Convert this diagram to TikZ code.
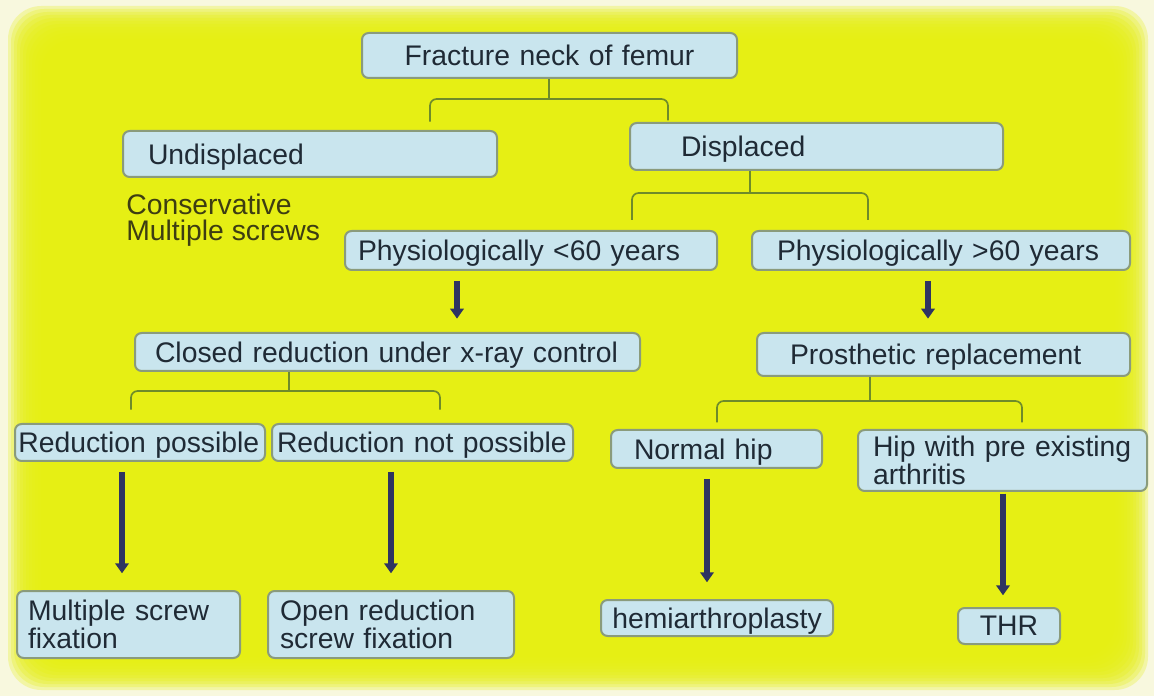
\documentclass[tikz,border=0pt]{standalone}
\usepackage{fontspec}
\setsansfont{Liberation Sans}
\usetikzlibrary{arrows.meta}
\definecolor{Haze}{HTML}{F8F8DE}
\definecolor{Lemon}{HTML}{E6EF12}
\definecolor{BoxFill}{HTML}{C9E5EE}
\definecolor{BoxEdge}{HTML}{8A9B7C}
\definecolor{BoxInk}{HTML}{1F2A35}
\definecolor{NoteInk}{HTML}{3D3D12}
\definecolor{BraceGreen}{HTML}{6E8B2A}
\definecolor{ShaftBlue}{HTML}{2E3461}

\begin{document}
\begin{tikzpicture}[x=0.6pt,y=-0.6pt,>={Triangle[width=8pt,length=6pt]},
  every node/.style={font=\sffamily\fontsize{17}{15.5}\selectfont,text=BoxInk},
  box/.style={draw=BoxEdge,fill=BoxFill,line width=1.2pt,rounded corners=4pt,align=left,inner ysep=0pt},
  single/.style={box,text depth=0pt},
  brace/.style={BraceGreen,line width=1pt,rounded corners=4pt},
  push/.style={->,ShaftBlue,line width=3.4pt,shorten <=6pt,shorten >=8pt}]
\useasboundingbox (0,0) rectangle (1154,696);
\fill[Haze] (0,0) rectangle (1154,696);
\foreach \k in {0,...,11}{\fill[Lemon,opacity=.28,rounded corners=20pt] (8+3*\k,6+3*\k) rectangle (1148-3*\k,690-3*\k);}
\node[single,text width=225pt,inner xsep=0pt,align=center,minimum height=27pt] (frac) at (549.5,55.5) {Fracture neck of femur};
\node[single,text width=194.4pt,inner xsep=15pt,minimum height=27.6pt] (undisp) at (310,154) {Undisplaced};
\node[single,text width=162.6pt,inner xsep=30.6pt,minimum height=28.2pt] (disp) at (816.5,146.5) {Displaced};
\node[text=NoteInk,align=left,anchor=north west,inner sep=0pt] (cons) at (126,194) {Conservative\\Multiple screws};
\node[single,text width=207.6pt,inner xsep=7.8pt,minimum height=23.4pt] (young) at (531,250.5) {Physiologically <60 years};
\node[single,text width=196.8pt,inner xsep=15pt,minimum height=23.4pt] (old) at (941,250.5) {Physiologically >60 years};
\node[single,text width=279pt,inner xsep=12pt,minimum height=22.8pt] (closed) at (387.5,352) {Closed reduction under x-ray control};
\node[single,text width=184.2pt,inner xsep=19.8pt,minimum height=25.8pt] (prosth) at (943.5,354.5) {Prosthetic replacement};
\node[single,text width=146pt,inner xsep=2pt,minimum height=22.2pt] (redyes) at (140,442.5) {Reduction possible};
\node[single,text width=174.6pt,inner xsep=3pt,minimum height=22.2pt] (redno) at (422.5,442.5) {Reduction not possible};
\node[single,text width=99pt,inner xsep=13.8pt,minimum height=22.8pt] (normal) at (716.5,449) {Normal hip};
\node[box,text width=155.4pt,inner xsep=9pt,minimum height=36.6pt] (arth) at (1002.5,460.5) {Hip with pre existing\\arthritis};
\node[box,text width=120.6pt,inner xsep=6.6pt,minimum height=40.2pt] (multi) at (128.5,624.5) {Multiple screw\\fixation};
\node[box,text width=133.2pt,inner xsep=7.2pt,minimum height=40.2pt] (open) at (391,624.5) {Open reduction\\screw fixation};
\node[single,text width=139.2pt,inner xsep=0pt,align=center,minimum height=21.6pt] (hemi) at (717,618) {hemiarthroplasty};
\node[single,text width=61.2pt,inner xsep=0pt,align=center,minimum height=21.6pt] (thr) at (1009,626) {THR};
\draw[brace] (frac.south -| 549,0) -- ++(0,20) coordinate (j1);
\draw[brace,shorten <=5pt,shorten >=1pt] (undisp.north -| 430,0) |- (j1) -| (disp.north -| 668,0);
\draw[brace] (disp.south -| 750,0) -- ++(0,22) coordinate (j2);
\draw[brace,shorten <=6pt,shorten >=6pt] (young.north -| 632,0) |- (j2) -| (old.north -| 868,0);
\draw[brace] (closed.south -| 289,0) -- ++(0,19) coordinate (j3);
\draw[brace,shorten <=8pt,shorten >=8pt] (redyes.north -| 131,0) |- (j3) -| (redno.north -| 440,0);
\draw[brace] (prosth.south -| 870,0) -- ++(0,24) coordinate (j4);
\draw[brace,shorten <=4pt,shorten >=4pt] (normal.north -| 717,0) |- (j4) -| (arth.north -| 1022,0);
\draw[push] (young.south -| 457,0) -- (closed.north -| 457,0);
\draw[push] (old.south -| 928,0) -- (prosth.north -| 928,0);
\draw[push,shorten >=10pt] (redyes.south -| 122,0) -- (multi.north -| 122,0);
\draw[push,shorten >=10pt] (redno.south -| 391,0) -- (open.north -| 391,0);
\draw[push,shorten >=10pt] (normal.south -| 707,0) -- (hemi.north -| 707,0);
\draw[push,shorten <=1pt,shorten >=7pt] (arth.south -| 1003,0) -- (thr.north -| 1003,0);
\end{tikzpicture}
\end{document}
